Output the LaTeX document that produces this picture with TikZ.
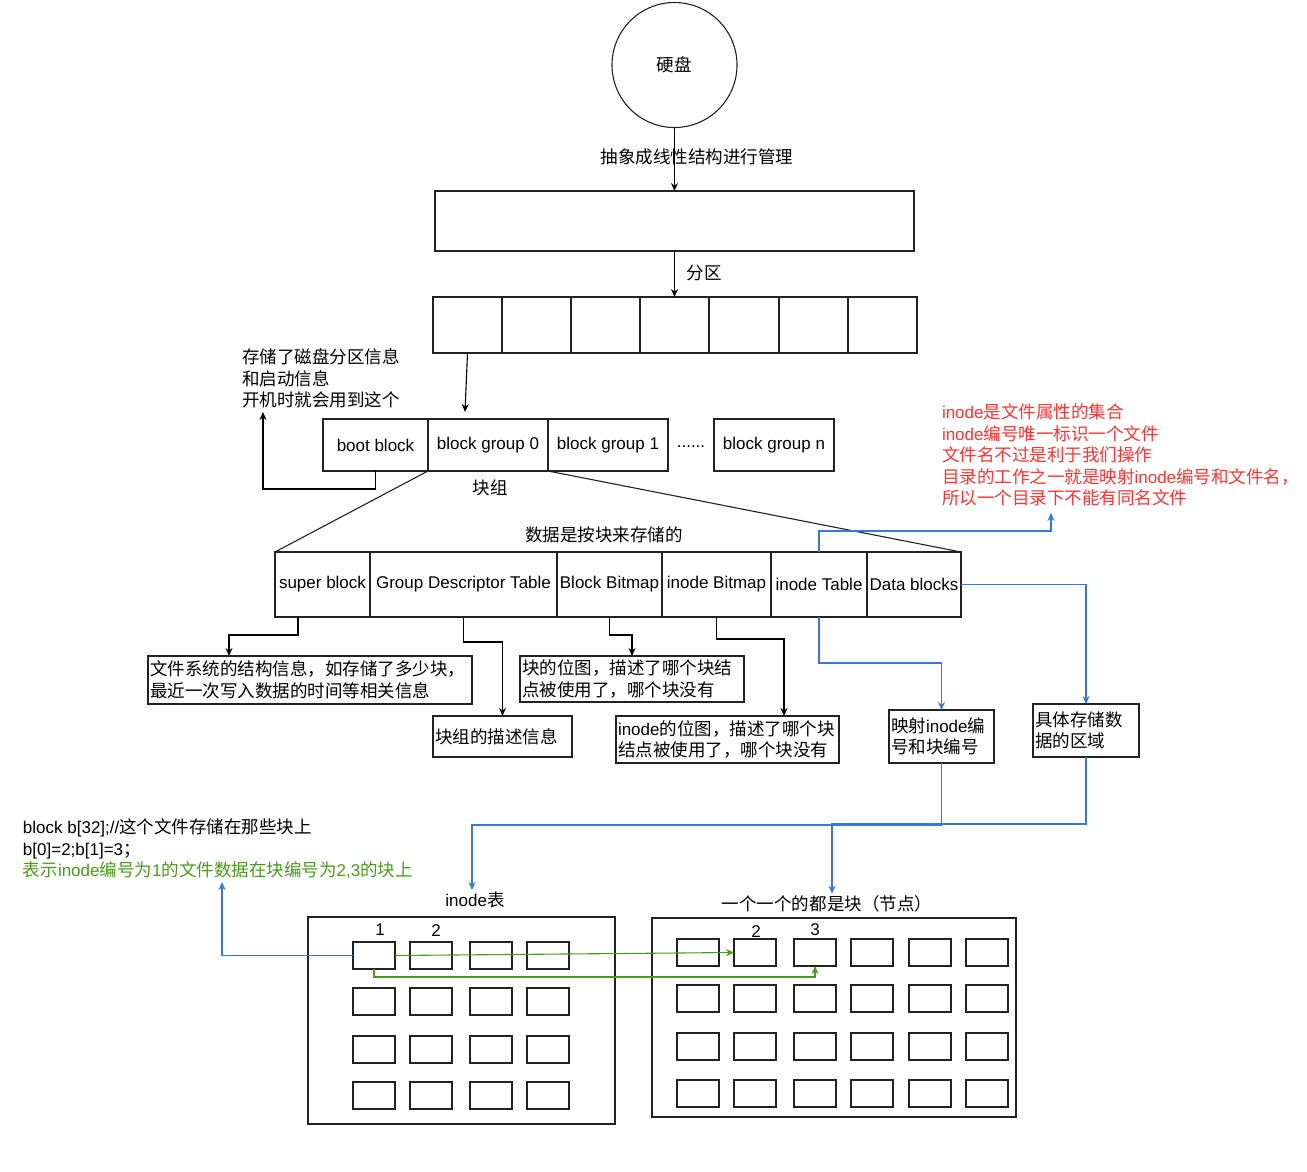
\documentclass[tikz,border=0pt]{standalone}
\usepackage{fontspec}
\setmainfont{Liberation Sans}
\newfontfamily\cjk[Scale=1.03]{Noto Sans CJK SC}
\usetikzlibrary{arrows.meta,calc}
\newcommand\zh[1]{{\cjk #1}}
\definecolor{myblue}{HTML}{3A78D6}
\definecolor{mygreen}{HTML}{4A9A1C}
\definecolor{myred}{HTML}{FF3333}
\definecolor{myline}{HTML}{222222}
\begin{document}
\begin{tikzpicture}[x=1pt,y=-1pt,
  font=\fontsize{17}{21.5}\selectfont,
  line width=1.1pt,
  cellbox/.style={draw=myline, inner sep=0pt, outer sep=0pt},
  descbox/.style={draw=myline, inner xsep=2pt, inner ysep=0pt, outer sep=0pt, align=left},
  smallbox/.style={draw=myline, inner sep=0pt, outer sep=0pt, minimum width=42pt, minimum height=27pt},
  lbl/.style={inner sep=0pt, outer sep=0pt},
  arr/.style={-{Stealth[length=8pt,width=7pt]}, draw=black},
  barr/.style={-{Stealth[length=8pt,width=7pt]}, draw=myblue},
  garr/.style={-{Stealth[length=8pt,width=7pt]}, draw=mygreen},
]
\useasboundingbox (0,0) rectangle (1307,1171);

% disk and linear
\node[draw=myline, circle, minimum size=125pt, inner sep=0pt] (disk) at (674.5,65) {\zh{硬盘}};
\node[cellbox, minimum width=479pt, minimum height=60pt] (lin) at (674.5,221) {};
\node[lbl] (lab1) at (697,157) {\zh{抽象成线性结构进行管理}};
\node[lbl] (lab2) at (704,273) {\zh{分区}};
\draw[arr] (disk.south) -- (lin.north);

% partitions
\foreach \a/\b [count=\i] in {433/502,502/571,571/640,640/709,709/779,779/848,848/917}
  \node[cellbox, minimum width={\b-\a}, minimum height=56pt] (p\i) at ({(\a+\b)/2},325) {};
\draw[arr] (lin.south) -- (p4.north);

% boot row
\node[cellbox, minimum width=105pt, minimum height=52pt] (bb) at (375.5,445) {boot block};
\node[cellbox, minimum width=120pt, minimum height=52pt] (bg0) at (488,445) {block group 0};
\node[cellbox, minimum width=120pt, minimum height=52pt] (bg1) at (608,445) {block group 1};
\node[lbl] (dots) at (691,447) {......};
\node[cellbox, minimum width=120pt, minimum height=52pt] (bgn) at (774,445) {block group n};
\node[lbl] (kz) at (490,488) {\zh{块组}};
\coordinate (bg0in) at (465,412);
\draw[arr] (p1.south) -- (bg0in);

\node[lbl, anchor=west, align=left] (note) at (242,378.5) {\zh{存储了磁盘分区信息}\\\zh{和启动信息}\\\zh{开机时就会用到这个}};
\coordinate (notetip) at (263,412);
\draw[arr] (bb.south) -- ++(0,18) -| (notetip);

% block group structure
\node[lbl] (dlab) at (604,535) {\zh{数据是按块来存储的}};
\node[cellbox, minimum width=95pt, minimum height=65pt] (sb) at (322.5,584.5) {super block};
\node[cellbox, minimum width=187pt, minimum height=65pt] (gdt) at (463.5,584.5) {Group Descriptor Table};
\node[cellbox, minimum width=105pt, minimum height=65pt] (bbm) at (609.5,584.5) {Block Bitmap};
\node[cellbox, minimum width=109pt, minimum height=65pt] (ibm) at (716.5,584.5) {inode Bitmap};
\node[cellbox, minimum width=96pt, minimum height=65pt] (it) at (819,584.5) {inode Table};
\node[cellbox, minimum width=94pt, minimum height=65pt] (db) at (914,584.5) {Data blocks};
\draw[myline] (bg0.south west) -- (sb.north west);
\draw[myline] (bg0.south east) -- (db.north east);

% descriptions
\node[descbox, text width=320pt, minimum height=48pt] (d1) at (310,680) {\zh{文件系统的结构信息，如存储了多少块，}\\\zh{最近一次写入数据的时间等相关信息}};
\node[descbox, text width=135pt, minimum height=41pt] (d2) at (502.5,736.5) {\zh{块组的描述信息}};
\node[descbox, text width=220pt, minimum height=46pt] (d3) at (632,679) {\zh{块的位图，描述了哪个块结}\\\zh{点被使用了，哪个块没有}};
\node[descbox, text width=219pt, minimum height=47pt] (d4) at (727.5,739.5) {inode\zh{的位图，描述了哪个块}\\\zh{结点被使用了，哪个块没有}};
\node[descbox, text width=101pt, minimum height=53pt] (d5) at (941.5,736.5) {\zh{映射}inode\zh{编}\\\zh{号和块编号}};
\node[descbox, text width=102pt, minimum height=53pt] (d6) at (1086,730.5) {\zh{具体存储数}\\\zh{据的区域}};

\draw[arr] ([xshift=-24.5pt]sb.south) -- ++(0,18) -| ([xshift=-81pt]d1.north);
\draw[arr] (gdt.south) -- ++(0,25) -| (d2.north);
\draw[arr] (bbm.south) -- ++(0,18) -| (d3.north);
\draw[arr] (ibm.south) -- ++(0,22) -| ([xshift=56.5pt]d4.north);

% red note
\node[lbl, anchor=west, align=left, text=myred] (rnote) at (942,455) {inode\zh{是文件属性的集合}\\inode\zh{编号唯一标识一个文件}\\\zh{文件名不过是利于我们操作}\\\zh{目录的工作之一就是映射}inode\zh{编号和文件名，}\\\zh{所以一个目录下不能有同名文件}};
\coordinate (rtip) at (1051,513);
\draw[barr] (it.north) -- ++(0,-21) -| (rtip);
\draw[barr] (it.south) -- ++(0,46) -| (d5.north);
\draw[barr] (db.east) -| (d6.north);

% code text
\node[lbl, anchor=west, align=left] (code) at (23,849) {block b[32];//\zh{这个文件存储在那些块上}\\b[0]=2;b[1]=3\zh{；}\\\textcolor{mygreen}{\zh{表示}inode\zh{编号为}1\zh{的文件数据在块编号为}2,3\zh{的块上}}};

% inode table
\node[lbl] (itlab) at (475,900) {inode\zh{表}};
\node[cellbox, minimum width=307pt, minimum height=207pt] (ito) at (461.5,1020.5) {};
\foreach \x [count=\i] in {374,431,491,548}
  \foreach \y [count=\j] in {955.5,1001.5,1049.5,1095.5}
    \node[smallbox] (i\j\i) at (\x,\y) {};
\node[lbl] (n1) at (380,930) {1};
\node[lbl] (n2) at (436,931) {2};

% blocks
\node[lbl] (bklab) at (827,904) {\zh{一个一个的都是块（节点）}};
\node[cellbox, minimum width=364pt, minimum height=199pt] (bko) at (834,1017.5) {};
\foreach \x [count=\i] in {698,755,815,872,930,987}
  \foreach \y [count=\j] in {952.5,998.5,1046.5,1093.5}
    \node[smallbox] (b\j\i) at (\x,\y) {};
\node[lbl] (n3) at (756,932) {2};
\node[lbl] (n4) at (815,930) {3};

% bottom blue arrows
\draw[barr] (d5.south) -- ++(0,62) -| ([xshift=-3pt,yshift=2pt]itlab.north);
\draw[barr] (d6.south) -- ++(0,67) -| ([xshift=5pt,yshift=2pt]bklab.north);

% inode -> blocks
\coordinate (codetip) at (222,882);
\draw[barr] (i11.west) -| (codetip);
\draw[garr] (i11.east) -- (b12.west);
\draw[garr] (i11.south) -- ++(0,8) -| (b13.south);
\end{tikzpicture}
\end{document}
